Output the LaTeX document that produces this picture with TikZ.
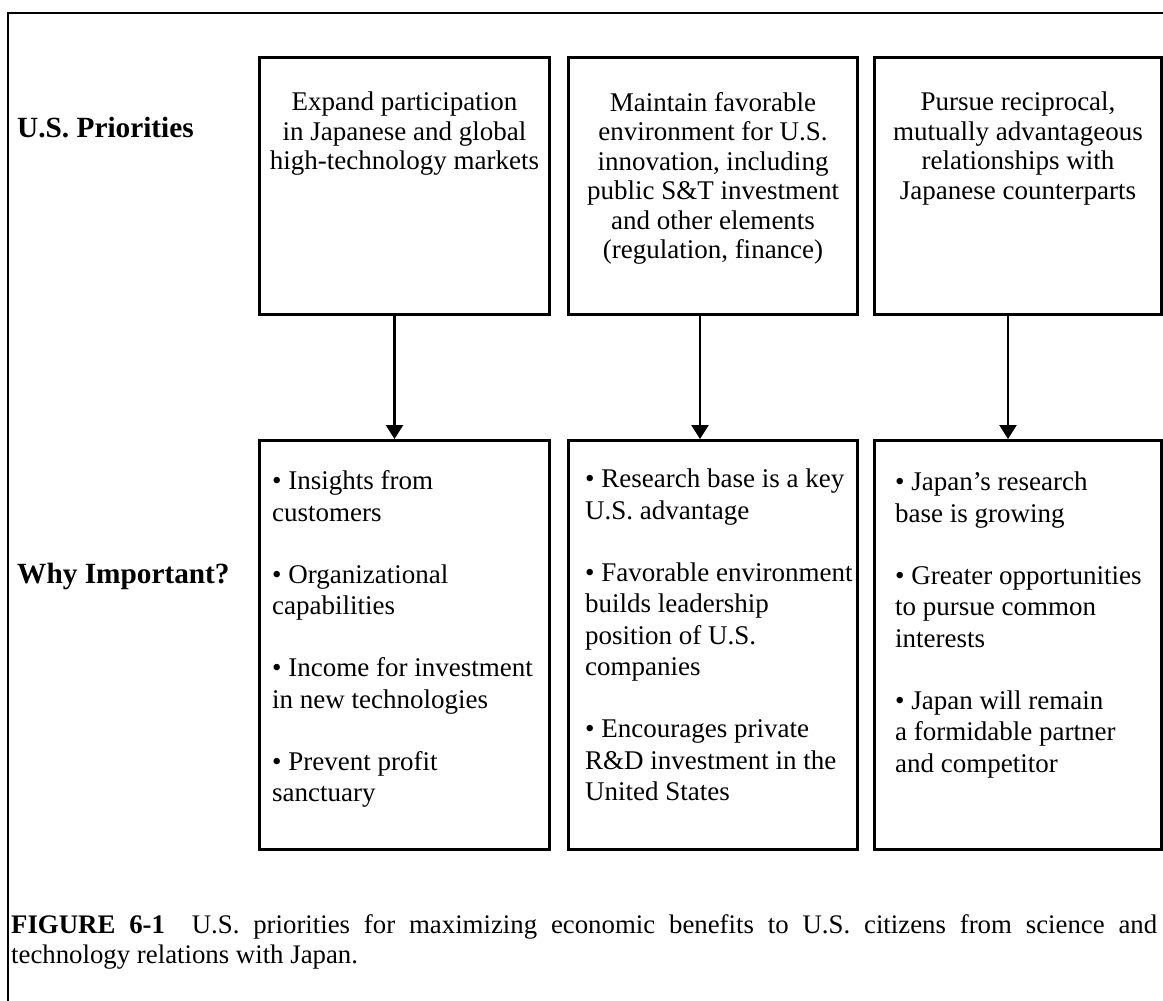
\documentclass[tikz,border=0pt]{standalone}
\usepackage{fontspec}
\setmainfont{Liberation Serif}
\usetikzlibrary{arrows.meta,positioning}

\begin{document}
\begin{tikzpicture}[x=1pt,y=-1pt]
\tikzstyle{every node}=[inner sep=0pt]
\tikzstyle{prio}=[draw,line width=3pt,anchor=north west,minimum height=257pt]
\tikzstyle{why}=[draw,line width=3pt,anchor=north west,minimum height=409pt]
\tikzstyle{ptext}=[anchor=north,align=center,font=\fontsize{27}{29.5}\selectfont]
\tikzstyle{wtext}=[anchor=north west,align=left,font=\fontsize{27}{31.3}\selectfont]
\tikzstyle{rowlabel}=[anchor=base west,font=\fontsize{29.3}{32}\selectfont\bfseries]
\tikzstyle{down}=[line width=2.6pt,-{Triangle[width=17pt,length=14pt]}]
\useasboundingbox (0,0) rectangle (1163,1001);
\clip (0,0) rectangle (1163,1001);
\draw[line width=2pt] (8,13) rectangle (1190,1030);

\node[rowlabel] (lab1) at (17,137) {U.S. Priorities};
\node[rowlabel] (lab2) at (17,583) {Why Important?};

\node[prio,minimum width=290pt] (p1) at (258,56) {};
\node[prio,minimum width=289pt] (p2) at (567,56) {};
\node[prio,minimum width=287pt] (p3) at (873,56) {};
\node[ptext] (p1t) at ([yshift=-36pt]p1.north) {Expand participation\\in Japanese and global\\high-technology markets};
\node[ptext] (p2t) at ([yshift=-36pt]p2.north) {Maintain favorable\\environment for U.S.\\innovation, including\\public S\&T investment\\and other elements\\(regulation, finance)};
\node[ptext] (p3t) at ([yshift=-36pt]p3.north) {Pursue reciprocal,\\mutually advantageous\\relationships with\\Japanese counterparts};

\node[why,minimum width=290pt] (w1) at (258,439) {};
\node[why,minimum width=289pt] (w2) at (567,439) {};
\node[why,minimum width=287pt] (w3) at (873,439) {};
\node[wtext] (w1t) at ([xshift=14pt,yshift=-31.5pt]w1.north west) {• Insights from\\customers\\[31pt]• Organizational\\capabilities\\[31pt]• Income for investment\\in new technologies\\[31pt]• Prevent profit\\sanctuary};
\node[wtext] (w2t) at ([xshift=18pt,yshift=-30pt]w2.north west) {• Research base is a key\\U.S. advantage\\[31pt]• Favorable environment\\builds leadership\\position of U.S.\\companies\\[31pt]• Encourages private\\R\&D investment in the\\United States};
\node[wtext] (w3t) at ([xshift=22pt,yshift=-33pt]w3.north west) {• Japan’s research\\base is growing\\[31pt]• Greater opportunities\\to pursue common\\interests\\[31pt]• Japan will remain\\a formidable partner\\and competitor};

\draw[down] ([xshift=-10pt]p1.south) -- ([xshift=-10pt]w1.north);
\draw[down] ([xshift=-13pt]p2.south) -- ([xshift=-13pt]w2.north);
\draw[down] ([xshift=-10pt]p3.south) -- ([xshift=-10pt]w3.north);

\node[anchor=north west,text width=1146pt,align=justify,font=\fontsize{26.8}{30}\selectfont] (cap) at (11,914) {\tolerance=10000 \textbf{FIGURE 6-1}\quad U.S. priorities for maximizing economic benefits to U.S. citizens from science and\linebreak technology relations with Japan.};
\end{tikzpicture}
\end{document}
